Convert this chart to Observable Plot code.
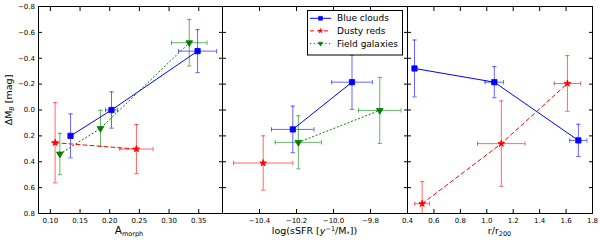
<!DOCTYPE html>
<html>
<head>
<meta charset="utf-8">
<script src="https://cdn.jsdelivr.net/npm/d3@7"></script>
<script src="https://cdn.jsdelivr.net/npm/@observablehq/plot@0.6"></script>
<style>
  html, body { margin: 0; padding: 0; background: #fff; }
  #chart { position: relative; width: 600px; height: 240px; font-family: "DejaVu Sans", sans-serif; }
  #chart svg { position: absolute; left: 0; top: 0; overflow: visible; background: transparent; }
</style>
</head>
<body>
<div id="chart"></div>
<script>
// ---------- data ----------
const seriesNames = ["Blue clouds", "Dusty reds", "Field galaxies"];
const seriesColors = ["#0000ff", "#ff0000", "#008000"];
const yTicks = [-0.8, -0.6, -0.4, -0.2, 0.0, 0.2, 0.4, 0.6, 0.8];

// rows: [series, x, x error, ΔM_B, ΔM_B error]
const morphPoints = [
  ["Blue clouds", 0.134, 0.004, 0.20, 0.17],
  ["Blue clouds", 0.203, 0.010, 0.00, 0.14],
  ["Blue clouds", 0.348, 0.032, -0.455, 0.166],
  ["Dusty reds", 0.108, 0.006, 0.253, 0.31],
  ["Dusty reds", 0.245, 0.028, 0.302, 0.19],
  ["Field galaxies", 0.116, 0.004, 0.34, 0.16],
  ["Field galaxies", 0.1845, 0.004, 0.142, 0.14],
  ["Field galaxies", 0.334, 0.030, -0.52, 0.18]
];
const ssfrPoints = [
  ["Blue clouds", -10.22, 0.115, 0.15, 0.18],
  ["Blue clouds", -9.90, 0.11, -0.215, 0.21],
  ["Dusty reds", -10.38, 0.16, 0.41, 0.21],
  ["Field galaxies", -10.19, 0.125, 0.25, 0.205],
  ["Field galaxies", -9.75, 0.115, 0.003, 0.255]
];
const radiusPoints = [
  ["Blue clouds", 0.453, 0.01, -0.321, 0.22],
  ["Blue clouds", 1.057, 0.07, -0.215, 0.12],
  ["Blue clouds", 1.693, 0.065, 0.235, 0.125],
  ["Dusty reds", 0.511, 0.056, 0.724, 0.17],
  ["Dusty reds", 1.11, 0.18, 0.26, 0.33],
  ["Dusty reds", 1.61, 0.10, -0.205, 0.215]
];

const morphTicks = [0.10, 0.15, 0.20, 0.25, 0.30, 0.35];
const ssfrTicks = [-10.4, -10.2, -10.0, -9.8];
const radiusTicks = [0.4, 0.6, 0.8, 1.0, 1.2, 1.4, 1.6, 1.8];

// ---------- styles ----------
const seriesStyle = {
  "Blue clouds":    { symbol: "square",   dash: null,      rotate: 0,   r: 3.0, lr: 2.2 },
  "Dusty reds":     { symbol: "star",     dash: "4,3",     rotate: 0,   r: 2.1, lr: 1.4 },
  "Field galaxies": { symbol: "triangle", dash: "1.2,2.6", rotate: 180, r: 2.5, lr: 1.7 }
};
const colorOf = s => seriesColors[seriesNames.indexOf(s)];

const capH = { draw(ctx, size) { const r = Math.sqrt(size / Math.PI); ctx.moveTo(-r, 0); ctx.lineTo(r, 0); } };
const capV = { draw(ctx, size) { const r = Math.sqrt(size / Math.PI); ctx.moveTo(0, -r); ctx.lineTo(0, r); } };

const W = 600, H = 240, TOP = 6, BOTTOM = 27;

function panel(points, xDomain, xTicks, xFmt, left, right, showY) {
  const data = points.map(([s, x, xe, y, ye]) => ({ s, x, xe, y, ye }));
  const marks = [];
  const errOpts = { stroke: "s", strokeOpacity: 0.6, strokeWidth: 1, clip: true };
  marks.push(Plot.ruleY(data.filter(d => d.xe > 0), { y: "y", x1: d => d.x - d.xe, x2: d => d.x + d.xe, ...errOpts }));
  marks.push(Plot.ruleX(data, { x: "x", y1: d => d.y - d.ye, y2: d => d.y + d.ye, ...errOpts }));
  marks.push(Plot.dot(data, { x: "x", y: d => d.y - d.ye, symbol: capH, r: 2.2, fill: "none", ...errOpts }));
  marks.push(Plot.dot(data, { x: "x", y: d => d.y + d.ye, symbol: capH, r: 2.2, fill: "none", ...errOpts }));
  marks.push(Plot.dot(data.filter(d => d.xe > 0.008), { x: d => d.x - d.xe, y: "y", symbol: capV, r: 2.2, fill: "none", ...errOpts }));
  marks.push(Plot.dot(data.filter(d => d.xe > 0.008), { x: d => d.x + d.xe, y: "y", symbol: capV, r: 2.2, fill: "none", ...errOpts }));
  for (const s of seriesNames) {
    const sub = data.filter(d => d.s === s);
    if (!sub.length) continue;
    const st = seriesStyle[s];
    marks.push(Plot.line(sub, { x: "x", y: "y", stroke: colorOf(s), strokeWidth: 1, strokeDasharray: st.dash }));
  }
  for (const s of seriesNames) {
    const sub = data.filter(d => d.s === s);
    if (!sub.length) continue;
    const st = seriesStyle[s];
    marks.push(Plot.dot(sub, { x: "x", y: "y", symbol: st.symbol, r: st.r, fill: colorOf(s), stroke: colorOf(s), strokeWidth: 0.8, rotate: st.rotate, clip: true }));
  }
  marks.push(Plot.frame({ stroke: "black", strokeWidth: 1 }));
  marks.push(Plot.axisX({ ticks: xTicks, tickFormat: xFmt, tickSize: -4, tickPadding: 8.5, label: null, fontSize: 7 }));
  marks.push(Plot.axisX({ anchor: "top", ticks: xTicks, tickSize: -4, fill: "none", label: null }));
  if (showY) {
    marks.push(Plot.axisY({ ticks: yTicks, tickFormat: d3.format(".1f"), tickSize: -4, tickPadding: 7.5, label: null, fontSize: 7 }));
  } else {
    marks.push(Plot.axisY({ ticks: yTicks, tickSize: -4, fill: "none", label: null }));
  }
  marks.push(Plot.axisY({ anchor: "right", ticks: yTicks, tickSize: -4, fill: "none", label: null }));

  return Plot.plot({
    width: W, height: H,
    marginLeft: left, marginRight: W - right, marginTop: TOP, marginBottom: BOTTOM,
    x: { domain: xDomain },
    y: { domain: [-0.8, 0.8], reverse: true },
    color: { domain: seriesNames, range: seriesColors },
    style: { fontFamily: "DejaVu Sans, sans-serif", fontSize: "7px", background: "transparent", color: "black" },
    marks
  });
}

const chart = document.getElementById("chart");
const p1 = panel(morphPoints, [0.08, 0.39], morphTicks, d3.format(".2f"), 38, 222, true);
const p2 = panel(ssfrPoints, [-10.6, -9.6], ssfrTicks, d3.format(".1f"), 222, 407, false);
const p3 = panel(radiusPoints, [0.4, 1.8], radiusTicks, d3.format(".1f"), 407, 592, false);
chart.append(p1, p2, p3);

// ---------- axis labels ----------
function addText(svg, x, y, parts, opts = {}) {
  const t = d3.select(svg).append("text")
    .attr("x", x).attr("y", y)
    .attr("text-anchor", opts.anchor || "middle")
    .attr("font-family", "DejaVu Sans, sans-serif")
    .attr("font-size", opts.size || "9.5px")
    .attr("fill", "black");
  if (opts.rotate) t.attr("transform", `rotate(${opts.rotate},${x},${y})`);
  for (const p of parts) {
    const ts = t.append("tspan").text(p.t);
    if (p.sub) ts.attr("font-size", "6.5px").attr("baseline-shift", "-25%");
    if (p.sup) ts.attr("font-size", "6.5px").attr("baseline-shift", "40%");
    if (p.it) ts.attr("font-style", "italic");
    if (p.big) ts.attr("font-size", p.big);
  }
  return t;
}
addText(p1, 11.5, 100, [{ t: "ΔM" }, { t: "B", sub: true, it: true }, { t: " [mag]" }], { rotate: -90 });
addText(p1, 129, 234, [{ t: "A", big: "10.5px" }, { t: "morph", sub: true }]);
addText(p2, 314.5, 234, [{ t: "log(sSFR [" }, { t: "y", it: true }, { t: "−1", sup: true }, { t: "/M" }, { t: "*", sub: true }, { t: "])" }]);
addText(p3, 499.5, 234, [{ t: "r/r" }, { t: "200", sub: true }]);

// ---------- legend (inside middle panel) ----------
const lg = d3.select(p2).append("g").attr("class", "legend");
lg.append("rect").attr("x", 307.5).attr("y", 10.5).attr("width", 95).attr("height", 44.5)
  .attr("fill", "white").attr("stroke", "black").attr("stroke-width", 1);
const symMap = { square: d3.symbolSquare, star: d3.symbolStar, triangle: d3.symbolTriangle };
seriesNames.forEach((s, i) => {
  const y = 18.3 + i * 12.6;
  const st = seriesStyle[s];
  lg.append("line").attr("x1", 310).attr("x2", 331).attr("y1", y).attr("y2", y)
    .attr("stroke", colorOf(s)).attr("stroke-width", 1).attr("stroke-dasharray", st.dash);
  lg.append("path").attr("d", d3.symbol(symMap[st.symbol], Math.PI * st.lr * st.lr)())
    .attr("transform", `translate(320.5,${y}) rotate(${st.rotate})`).attr("fill", colorOf(s))
    .attr("stroke", colorOf(s)).attr("stroke-width", 0.6);
  lg.append("text").attr("x", 337).attr("y", y).attr("dy", "0.35em")
    .attr("text-anchor", "start")
    .attr("font-family", "DejaVu Sans, sans-serif").attr("font-size", "9px").attr("fill", "black").text(s);
});
</script>
</body>
</html>
